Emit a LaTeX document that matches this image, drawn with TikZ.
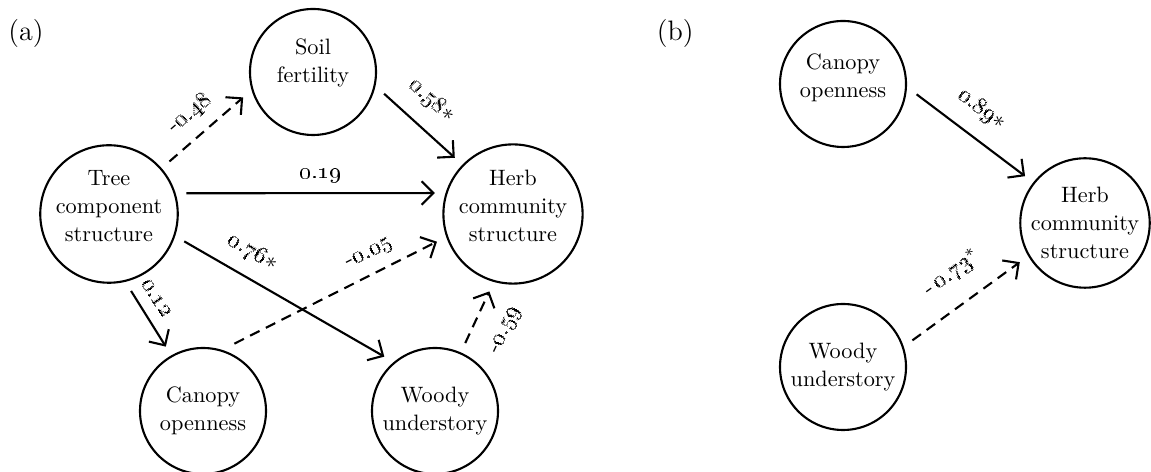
\documentclass[tikz,border=0pt]{standalone}
\usetikzlibrary{arrows.meta}
\begin{document}
\begin{tikzpicture}[>={Straight Barb[length=5pt,width=10pt]}, line width=0.9pt,
    var/.style={circle, draw, minimum size=1.89cm, inner sep=0pt, outer sep=0.17cm,
      align=center, font=\fontsize{9.5}{12}\selectfont},
    coef/.style={sloped, inner sep=2pt, font=\fontsize{10}{12}\selectfont},
    neg/.style={dash pattern=on 4.5pt off 3pt}]
    \useasboundingbox (0,0) rectangle (17.265,7.08);

    % 見出し
    \node[font=\fontsize{12}{14}\selectfont] (tagA) at (0.39, 6.585) {(a)};
    \node[font=\fontsize{12}{14}\selectfont] (tagB) at (10.13, 6.585) {(b)};

    % (a) の変数
    \node[var] (tree)  at (1.635, 3.87)  {Tree\\component\\structure\\[-5pt]};
    \node[var] (soil)  at (4.695, 6.0)   {Soil\\fertility\\[-2pt]};
    \node[var] (herbA) at (7.695, 3.87)  {Herb\\community\\structure\\[-5pt]};
    \node[var] (canA)  at (3.045, 0.915) {Canopy\\openness};
    \node[var] (woodA) at (6.525, 0.915) {Woody\\understory};

    % (a) のパス係数
    \draw[->, neg] (tree.41) -- (soil.200)
      node[coef, above=3pt, pos=0.48] (c048) {-\oldstylenums{0.48}};
    \draw[->] (soil.-17) -- (herbA.136)
      node[coef, above=5pt, pos=0.42] (c058) {\oldstylenums{0.58}$*$};
    \draw[->] (tree.15) -- (herbA.165)
      node[coef, above=2pt, pos=0.54] (c019) {\oldstylenums{0.19}};
    \draw[->] (tree.-20) -- (woodA.133)
      node[coef, above=4pt, pos=0.28] (c076) {\oldstylenums{0.76}$*$};
    \draw[->] (tree.-74) -- (canA.120)
      node[coef, above=3pt, pos=0.3] (c012) {\oldstylenums{0.12}};
    \draw[->, neg] (canA.65) -- (herbA.200)
      node[coef, above=2.5pt, pos=0.71] (c005) {-\oldstylenums{0.05}};
    \draw[->, neg] (woodA.66) -- (herbA.253)
      node[coef, below=8pt, pos=0.5] (c059) {-\oldstylenums{0.59}};

    % (b) の変数
    \node[var] (canB)  at (12.645, 5.82)  {Canopy\\openness\\[-5pt]};
    \node[var] (herbB) at (16.275, 3.735) {Herb\\community\\structure};
    \node[var] (woodB) at (12.645, 1.575) {Woody\\understory};

    % (b) のパス係数
    \draw[->] (canB.-8) -- (herbB.142)
      node[coef, above=5pt, pos=0.45] (c089) {\oldstylenums{0.89}$*$};
    \draw[->, neg] (woodB.21) -- (herbB.211)
      node[coef, above=6.5pt, pos=0.54] (c073) {-\,\oldstylenums{0.73}$^{*}$};
  \end{tikzpicture}
\end{document}
